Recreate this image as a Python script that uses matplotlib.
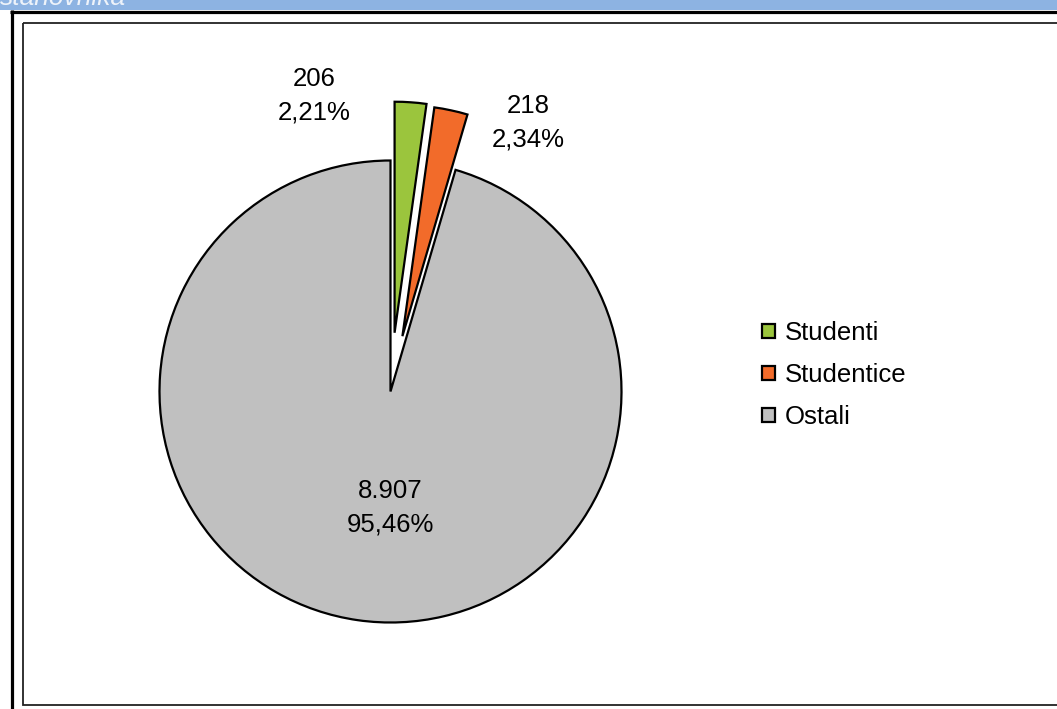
"""
Pie chart: students vs. rest of population.
"""
import matplotlib
matplotlib.use("Agg")
import matplotlib.pyplot as plt
from matplotlib.patches import Rectangle

categories = ["Studenti", "Studentice", "Ostali"]
counts = [206, 218, 8907]
count_labels = ["206", "218", "8.907"]
colors = ["#9BC53D", "#F26B2A", "#C0C0C0"]

plt.rcParams["font.family"] = ["Liberation Sans", "DejaVu Sans"]

W, H = 1057, 709
fig = plt.figure(figsize=(W / 100, H / 100), dpi=100)

# page decoration (word document frame) in pixel coords
bg = fig.add_axes([0, 0, 1, 1])
bg.set_xlim(0, W)
bg.set_ylim(H, 0)
bg.axis("off")
bg.add_patch(Rectangle((0, 0), W, 10, color="#8DB3E2", lw=0))
bg.text(0, 5, "stanovnika", color="#EEF3FA", fontsize=19, style="italic",
        ha="left", va="baseline")
bg.plot([10, W], [11.5, 11.5], color="black", lw=2.3, solid_capstyle="butt")
bg.plot([11.5, 11.5], [10, H], color="black", lw=2.3, solid_capstyle="butt")
bg.add_patch(Rectangle((22.5, 22.5), W, 682, fill=False, ec="#222222", lw=1.3))

# pie axes: centre (390.5, 391.5) px, radius 231 px
r = 231
cx, cy = 390.5, 391.5
half = 1.3 * r
ax = fig.add_axes([(cx - half) / W, (H - cy - half) / H, 2 * half / W, 2 * half / H])
total = sum(counts)
wedges, _ = ax.pie(counts, colors=colors, startangle=90, counterclock=False,
                   explode=[0.255, 0.245, 0],
                   wedgeprops=dict(edgecolor="black", linewidth=1.6))
ax.set_xlim(-1.3, 1.3)
ax.set_ylim(-1.3, 1.3)
ax.set_aspect("equal")
ax.axis("off")

label_pos = [(-0.331, 1.28), (0.595, 1.165), (0.0, -0.505)]
for (x, y), lab, c in zip(label_pos, count_labels, counts):
    pct = f"{100 * c / total:.2f}".replace(".", ",") + "%"
    ax.text(x, y, f"{lab}\n{pct}", ha="center", va="center", fontsize=18.5,
            linespacing=1.5)

fig.legend(wedges, categories, loc="center left",
           bbox_to_anchor=(749 / W, 1 - 375 / H), frameon=False,
           fontsize=18.5, handlelength=0.5, handleheight=0.5,
           handletextpad=0.4, labelspacing=0.7, borderpad=0)

fig.savefig("out.png", dpi=100)
